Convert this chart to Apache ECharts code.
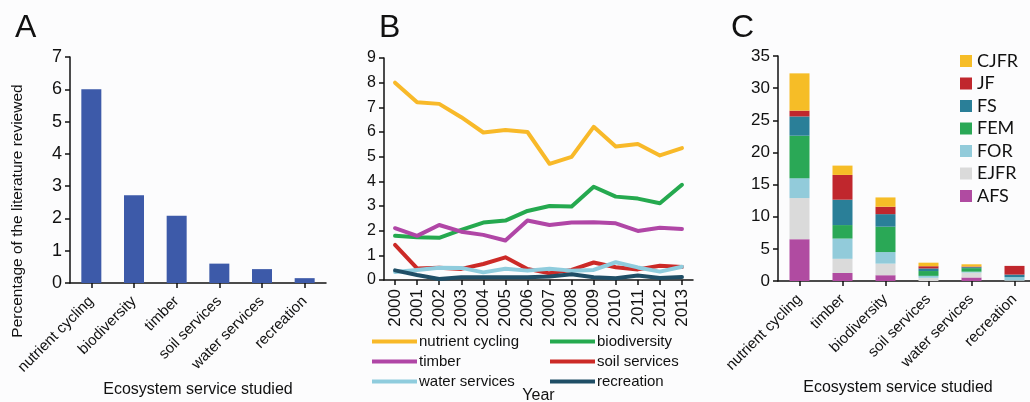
<!DOCTYPE html>
<html><head><meta charset="utf-8">
<script src="https://cdn.jsdelivr.net/npm/echarts@6/dist/echarts.min.js"></script>
<style>html,body{margin:0;padding:0;background:#fcfcfd}#c{width:1030px;height:402px}</style>
</head><body><div id="c"></div>
<script>
// Panel A
const servicesA = ['nutrient cycling','biodiversity','timber','soil services','water services','recreation'];
const percentA = [6.0, 2.72, 2.08, 0.6, 0.43, 0.15];

// Panel B
const years = ['2000','2001','2002','2003','2004','2005','2006','2007','2008','2009','2010','2011','2012','2013'];
const nutrientB = [8.0, 7.21, 7.14, 6.6, 5.98, 6.08, 6.0, 4.71, 4.99, 6.21, 5.41, 5.51, 5.05, 5.35];
const biodivB   = [1.79, 1.73, 1.71, 2.03, 2.33, 2.41, 2.8, 3.0, 2.98, 3.78, 3.38, 3.3, 3.11, 3.86];
const timberB   = [2.1, 1.79, 2.23, 1.96, 1.83, 1.6, 2.41, 2.23, 2.33, 2.34, 2.3, 1.99, 2.12, 2.07];
const soilB     = [1.42, 0.47, 0.5, 0.45, 0.65, 0.92, 0.45, 0.27, 0.41, 0.71, 0.52, 0.43, 0.58, 0.53];
const waterB    = [0.32, 0.41, 0.5, 0.49, 0.31, 0.46, 0.38, 0.46, 0.38, 0.41, 0.72, 0.51, 0.34, 0.54];
const recreB    = [0.39, 0.2, 0.04, 0.11, 0.11, 0.11, 0.11, 0.14, 0.23, 0.11, 0.07, 0.18, 0.08, 0.12];

// Panel C
const servicesC = ['nutrient cycling','timber','biodiversity','soil services','water services','recreation'];
const AFS  = [6.5, 1.25, 0.9, 0, 0.55, 0];
const EJFR = [6.4, 2.2, 1.8, 0.5, 0.75, 0.1];
const FOR  = [3.1, 3.15, 1.8, 0.3, 0.15, 0.5];
const FEM  = [6.6, 2.1, 3.95, 0.75, 0.55, 0];
const FS   = [3.0, 3.95, 1.95, 0.4, 0.15, 0.4];
const JF   = [0.9, 3.85, 1.15, 0.35, 0.1, 1.35];
const CJFR = [5.8, 1.45, 1.45, 0.55, 0.35, 0];

const FONT = '"Liberation Sans", Arial, sans-serif';
const black = '#111';
const axisLine = {show:true, lineStyle:{color:black, width:1.5}};
const axisTick = {show:true, inside:false, length:5, lineStyle:{color:black, width:1.5}};

const chart = echarts.init(document.getElementById('c'), null, {renderer:'canvas'});

const colB = {nutrient:'#F8B929', biodiv:'#25A94F', timber:'#B046A6', soil:'#CC2A27', water:'#8FCCDD', recre:'#1F4E66'};
function lineSeries(name, data, color){
  return {name, type:'line', xAxisIndex:1, yAxisIndex:1, data, showSymbol:false, symbol:'none',
    lineStyle:{color, width:4, join:'round', cap:'round'}, itemStyle:{color}, animation:false};
}
const colC = {CJFR:'#F6BD27', JF:'#C0272D', FS:'#2A7F98', FEM:'#2AA856', FOR:'#92CBDA', EJFR:'#DADADA', AFS:'#B04BA1'};
function barC(name, data){
  return {name, type:'bar', stack:'c', xAxisIndex:2, yAxisIndex:2, data, barWidth:20,
    itemStyle:{color:colC[name]}, animation:false};
}
const letterStyle = {fontSize:32, fontWeight:'normal', fontFamily:FONT, color:black};

const option = {
  backgroundColor:'#fcfcfd',
  animation:false,
  textStyle:{fontFamily:FONT, color:black},
  title:[
    {text:'A', left:10, top:7, textStyle:letterStyle},
    {text:'B', left:374, top:7, textStyle:letterStyle},
    {text:'C', left:726, top:7, textStyle:letterStyle}
  ],
  graphic:[
    {type:'text', x:18, y:211, rotation:Math.PI/2,
     style:{text:'Percentage of the literature reviewed', fontSize:15.5, fontFamily:FONT, fill:black,
            align:'center', verticalAlign:'middle'}}
  ],
  grid:[
    {left:70, top:57, width:256, height:226, outerBoundsMode:'none', containLabel:false},
    {left:384, top:58, width:309, height:222, outerBoundsMode:'none', containLabel:false},
    {left:778, top:56, width:258, height:225, outerBoundsMode:'none', containLabel:false}
  ],
  legend:[
    {data:['nutrient cycling','timber','water services'], orient:'vertical', left:367, top:329,
     icon:'rect', itemWidth:45, itemHeight:4, itemGap:5, textStyle:{fontSize:15, fontFamily:FONT, color:black, padding:[0,0,0,-3]}},
    {data:['biodiversity','soil services','recreation'], orient:'vertical', left:545, top:329,
     icon:'rect', itemWidth:45, itemHeight:4, itemGap:5, textStyle:{fontSize:15, fontFamily:FONT, color:black, padding:[0,0,0,-3]}},
    {data:['CJFR','JF','FS','FEM','FOR','EJFR','AFS'], orient:'vertical', left:955, top:47, itemGap:4.5,
     icon:'rect', itemWidth:12, itemHeight:12, textStyle:{fontSize:18, fontFamily:'Lato, "Liberation Sans", sans-serif', color:black}}
  ],
  xAxis:[
    {type:'category', gridIndex:0, data:servicesA, axisLine, axisTick:{...axisTick, alignWithLabel:true},
     axisLabel:{rotate:45, fontSize:15, color:black, fontFamily:FONT, interval:0, margin:16},
     name:'Ecosystem service studied', nameLocation:'middle', nameGap:93, nameTextStyle:{fontSize:16, color:black, fontFamily:FONT}},
    {type:'category', gridIndex:1, data:years, axisLine, axisTick:{...axisTick, alignWithLabel:true},
     axisLabel:{rotate:90, fontSize:17, color:black, fontFamily:FONT, interval:0, margin:9},
     name:'Year', nameLocation:'middle', nameGap:108, nameTextStyle:{fontSize:16, color:black, fontFamily:FONT}},
    {type:'category', gridIndex:2, data:servicesC, axisLine, axisTick:{...axisTick, alignWithLabel:true},
     axisLabel:{rotate:45, fontSize:15, color:black, fontFamily:FONT, interval:0, margin:16},
     name:'Ecosystem service studied', nameLocation:'middle', nameGap:96,
     nameTextStyle:{fontSize:16, color:black, fontFamily:FONT, padding:[0,0,0,-18]}}
  ],
  yAxis:[
    {type:'value', gridIndex:0, min:0, max:7, interval:1, splitLine:{show:false}, axisLine, axisTick,
     axisLabel:{fontSize:18, color:black, fontFamily:FONT, margin:8}},
    {type:'value', gridIndex:1, min:0, max:9, interval:1, splitLine:{show:false}, axisLine, axisTick,
     axisLabel:{fontSize:16, color:black, fontFamily:FONT, margin:8}},
    {type:'value', gridIndex:2, min:0, max:35, interval:5, splitLine:{show:false}, axisLine, axisTick,
     axisLabel:{fontSize:17, color:black, fontFamily:FONT, margin:8}}
  ],
  series:[
    {name:'A', type:'bar', xAxisIndex:0, yAxisIndex:0, data:percentA, barWidth:20, itemStyle:{color:'#3D5AA9'}},
    lineSeries('nutrient cycling', nutrientB, colB.nutrient),
    lineSeries('biodiversity', biodivB, colB.biodiv),
    lineSeries('timber', timberB, colB.timber),
    lineSeries('soil services', soilB, colB.soil),
    lineSeries('water services', waterB, colB.water),
    lineSeries('recreation', recreB, colB.recre),
    barC('AFS', AFS), barC('EJFR', EJFR), barC('FOR', FOR), barC('FEM', FEM),
    barC('FS', FS), barC('JF', JF), barC('CJFR', CJFR)
  ]
};
chart.setOption(option);
</script></body></html>
